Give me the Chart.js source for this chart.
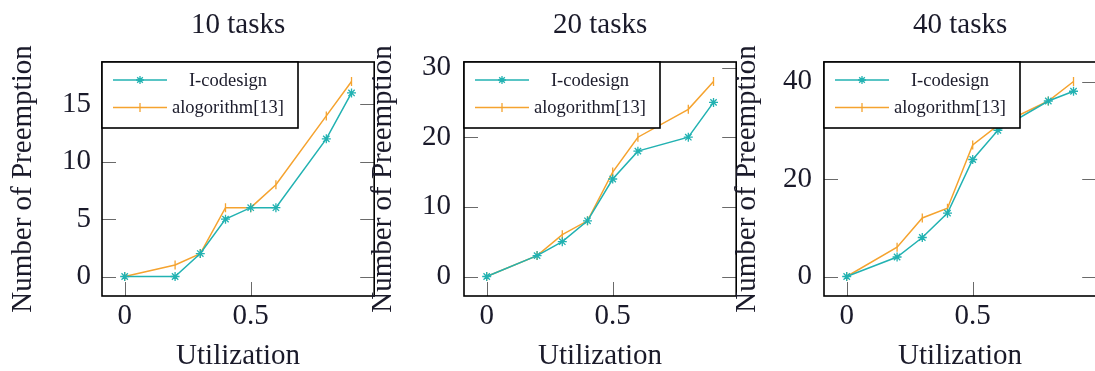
<!DOCTYPE html>
<html><head><meta charset="utf-8">
<script src="https://cdn.jsdelivr.net/npm/chart.js@4.4.1/dist/chart.umd.min.js"></script>
<style>
html,body{margin:0;padding:0;background:#fff;overflow:hidden;width:1095px;height:371px;position:relative;}
canvas{position:absolute;top:0;}
</style></head><body>
<canvas id="c1" width="380" height="371" style="left:0px"></canvas>
<canvas id="c2" width="380" height="371" style="left:362px"></canvas>
<canvas id="c3" width="380" height="371" style="left:722px"></canvas>
<script>
// ---- data ----
const utilization = [0, 0.2, 0.3, 0.4, 0.5, 0.6, 0.8, 0.9];
const panelTitles = ['10 tasks', '20 tasks', '40 tasks'];
const seriesNames = ['I-codesign', 'alogorithm[13]'];
const codesign10 = [0, 0, 2, 5, 6, 6, 12, 16];
const algorithm10 = [0, 1, 2, 6, 6, 8, 14, 17];
const codesign20 = [0, 3, 5, 8, 14, 18, 20, 25];
const algorithm20 = [0, 3, 6, 8, 15, 20, 24, 28];
const codesign40 = [0, 4, 8, 13, 24, 30, 36, 38];
const algorithm40 = [0, 6, 12, 14, 27, 31, 36, 40];
const xTickValues = [0, 0.5];
const yTicks10 = [0, 5, 10, 15];
const yTicks20 = [0, 10, 20, 30];
const yTicks40 = [0, 20, 40];
const xRange = [-0.09, 0.99];
const yRange10 = [-1.7, 18.7];
const yRange20 = [-2.8, 30.8];
const yRange40 = [-4, 44];
const xTitle = 'Utilization';
const yTitle = 'Number of Preemption';

// ---- style ----
const FONT = '"Liberation Serif", "DejaVu Serif", serif';
const TEXT = '#1a1a2a';
const TEAL = '#22b2b2';
const ORANGE = '#f5a32f';

function drawMarker(ctx, style, x, y, color) {
  ctx.save();
  ctx.strokeStyle = color; ctx.lineWidth = 1.3;
  ctx.beginPath();
  if (style === 'star') {
    const r = 4;
    ctx.moveTo(x - r, y); ctx.lineTo(x + r, y);
    ctx.moveTo(x, y - r); ctx.lineTo(x, y + r);
    const d = r * 0.707;
    ctx.moveTo(x - d, y - d); ctx.lineTo(x + d, y + d);
    ctx.moveTo(x - d, y + d); ctx.lineTo(x + d, y - d);
  } else {
    ctx.moveTo(x, y - 4.5); ctx.lineTo(x, y + 4.5);
  }
  ctx.stroke();
  ctx.restore();
}

const framePlugin = {
  id: 'frame',
  beforeDatasetsDraw(chart) {
    const {ctx, chartArea: a, scales} = chart;
    ctx.save();
    ctx.strokeStyle = '#6a6a6a'; ctx.lineWidth = 1;
    const tl = 14;
    scales.y.ticks.forEach(t => {
      const py = Math.round(scales.y.getPixelForValue(t.value)) + 0.5;
      ctx.beginPath();
      ctx.moveTo(a.left, py); ctx.lineTo(a.left + tl, py);
      ctx.moveTo(a.right, py); ctx.lineTo(a.right - tl, py);
      ctx.stroke();
    });
    scales.x.ticks.forEach(t => {
      const px = Math.round(scales.x.getPixelForValue(t.value)) + 0.5;
      ctx.beginPath();
      ctx.moveTo(px, a.bottom); ctx.lineTo(px, a.bottom - tl);
      ctx.moveTo(px, a.top); ctx.lineTo(px, a.top + tl);
      ctx.stroke();
    });
    ctx.restore();
  },
  afterDatasetsDraw(chart) {
    const {ctx, chartArea: a} = chart;
    ctx.save();
    ctx.strokeStyle = '#000'; ctx.lineWidth = 1.6;
    ctx.strokeRect(a.left, a.top, a.right - a.left, a.bottom - a.top);
    // legend
    const lw = 196, lh = 66;
    ctx.fillStyle = '#fff';
    ctx.fillRect(a.left, a.top, lw, lh);
    ctx.strokeRect(a.left, a.top, lw, lh);
    const rows = [a.top + 18, a.top + 45.5];
    ctx.font = '18.5px ' + FONT;
    ctx.textAlign = 'center'; ctx.textBaseline = 'middle';
    chart.data.datasets.forEach((ds, i) => {
      const y = rows[i];
      ctx.strokeStyle = ds.borderColor; ctx.lineWidth = 1.5;
      ctx.beginPath(); ctx.moveTo(a.left + 11, y); ctx.lineTo(a.left + 65, y); ctx.stroke();
      drawMarker(ctx, ds.pointStyle === 'star' ? 'star' : 'bar', a.left + 38, y, ds.borderColor);
      ctx.fillStyle = TEXT;
      ctx.fillText(ds.label, a.left + 126, y + 1);
    });
    ctx.restore();
  }
};

function makeChart(id, title, codesign, algorithm, yTicks, yRange, yTitlePad, yTickPad) {
  const toPts = arr => utilization.map((u, i) => ({x: u, y: arr[i]}));
  return new Chart(document.getElementById(id), {
    type: 'line',
    data: {
      datasets: [
        {label: seriesNames[0], data: toPts(codesign), borderColor: TEAL, backgroundColor: TEAL,
         borderWidth: 1.5, pointStyle: 'star', pointRadius: 4.5, pointBorderWidth: 1.3,
         pointBorderColor: TEAL, tension: 0, fill: false},
        {label: seriesNames[1], data: toPts(algorithm), borderColor: ORANGE, backgroundColor: ORANGE,
         borderWidth: 1.5, pointStyle: 'line', rotation: 90, pointRadius: 4.5, pointBorderWidth: 1.3,
         pointBorderColor: ORANGE, tension: 0, fill: false}
      ]
    },
    options: {
      responsive: false, animation: false, devicePixelRatio: 1,
      layout: {padding: {left: 0, right: 4, top: 0, bottom: 0}},
      plugins: {
        legend: {display: false}, tooltip: {enabled: false},
        title: {display: true, text: title, fullSize: false, color: TEXT,
                font: {family: FONT, size: 29, weight: 'normal', lineHeight: 1},
                padding: {top: 10.5, bottom: 22.5}}
      },
      scales: {
        x: {
          type: 'linear', min: xRange[0], max: xRange[1],
          afterBuildTicks: s => { s.ticks = xTickValues.map(v => ({value: v})); },
          afterFit: s => { s.height = 75; },
          grid: {display: false, drawTicks: false},
          border: {display: false},
          ticks: {color: TEXT, padding: 5.5, maxRotation: 0, autoSkip: false,
                  font: {family: FONT, size: 29, lineHeight: 1},
                  callback: v => String(v)},
          title: {display: true, text: xTitle, color: TEXT,
                  font: {family: FONT, size: 29, lineHeight: 1}, padding: {top: 0, bottom: 0}}
        },
        y: {
          type: 'linear', min: yRange[0], max: yRange[1],
          afterBuildTicks: s => { s.ticks = yTicks.map(v => ({value: v})); },
          afterFit: s => { s.width = 102; },
          grid: {display: false, drawTicks: false},
          border: {display: false},
          ticks: {color: TEXT, padding: yTickPad, autoSkip: false,
                  font: {family: FONT, size: 29, lineHeight: 1},
                  callback: v => String(v)},
          title: {display: true, text: yTitle, color: TEXT,
                  font: {family: FONT, size: 29, lineHeight: 1}, padding: {top: yTitlePad, bottom: 0}}
        }
      }
    },
    plugins: [framePlugin]
  });
}

makeChart('c1', panelTitles[0], codesign10, algorithm10, yTicks10, yRange10, 8.5, 11);
makeChart('c2', panelTitles[1], codesign20, algorithm20, yTicks20, yRange20, 6.5, 13);
makeChart('c3', panelTitles[2], codesign40, algorithm40, yTicks40, yRange40, 10.5, 12);
</script>
</body></html>
